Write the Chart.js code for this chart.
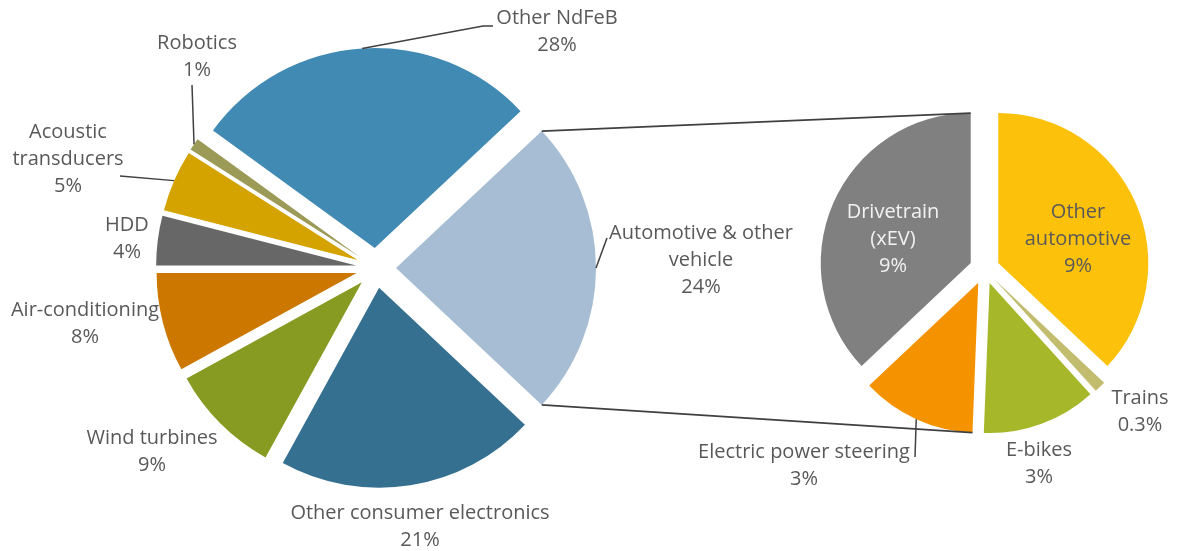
<!DOCTYPE html>
<html>
<head>
<meta charset="utf-8">
<title>NdFeB demand by application</title>
<script src="https://cdn.jsdelivr.net/npm/chart.js@4.4.1/dist/chart.umd.min.js"></script>
<style>
  html, body { margin: 0; padding: 0; background: #fff; }
  #wrap { position: relative; width: 1178px; height: 551px; }
  #wrap canvas { position: absolute; left: 0; top: 0; }
</style>
</head>
<body>
<div id="wrap">
  <canvas id="mainPie" width="1178" height="551"></canvas>
  <canvas id="subPie" width="1178" height="551"></canvas>
</div>
<script>
// main pie, clockwise from the slice that is broken out on the right
const mainLabels = ['Automotive & other vehicle', 'Other consumer electronics', 'Wind turbines',
  'Air-conditioning', 'HDD', 'Acoustic transducers', 'Robotics', 'Other NdFeB'];
const mainValues = [24, 21, 9, 8, 4, 5, 1, 28];
const mainColors = ['#a6bdd3', '#357091', '#879a21', '#cc7700', '#676767', '#d4a300', '#9c9a57', '#418ab3'];

// breakdown of the automotive slice, clockwise from 12 o'clock
const subLabels = ['Other automotive', 'Trains', 'E-bikes', 'Electric power steering', 'Drivetrain (xEV)'];
const subValues = [9, 0.3, 3, 3, 9];
const subColors = ['#fcc10a', '#c2bd6e', '#a6b72a', '#f59200', '#808080'];

const FONT = '20px "Open Sans"';
const TEXT = '#595959';
const LINE = '#404040';
const LINE_H = 27;

// x = centre of the text block, y = middle of the first line
const mainLabelPos = [
  { x: 701, y: 233, wrap: 200, leader: [[607, 238]] },
  { x: 420, y: 513 },
  { x: 152, y: 438 },
  { x: 85, y: 310 },
  { x: 127, y: 225 },
  { x: 68, y: 132, wrap: 130, leader: [[120, 176]] },
  { x: 197, y: 43, leader: [[192, 85]] },
  { x: 557, y: 18, leader: [[483, 26], [493, 26]] }
];
const subLabelPos = [
  { x: 1078, y: 212, wrap: 115 },
  { x: 1140, y: 398 },
  { x: 1039, y: 450 },
  { x: 804, y: 452, leader: [[915, 457]] },
  { x: 893, y: 212, wrap: 120, color: '#f2f2f2' }
];

const sum = arr => arr.reduce((a, b) => a + b, 0);

function pointOn(arc, angle) {
  return { x: arc.x + Math.cos(angle) * arc.outerRadius, y: arc.y + Math.sin(angle) * arc.outerRadius };
}

function wrapText(ctx, text, maxWidth) {
  if (!maxWidth) return [text];
  const lines = [];
  let line = '';
  text.split(' ').forEach(word => {
    const test = line ? line + ' ' + word : word;
    if (line && ctx.measureText(test).width > maxWidth) {
      lines.push(line);
      line = word;
    } else {
      line = test;
    }
  });
  lines.push(line);
  return lines;
}

// pull every slice out along its bisector
function explodePlugin(distance) {
  return {
    id: 'explode',
    afterDatasetUpdate(chart, args) {
      args.meta.data.forEach(arc => {
        const mid = (arc.startAngle + arc.endAngle) / 2;
        arc.x += Math.cos(mid) * distance;
        arc.y += Math.sin(mid) * distance;
      });
    }
  };
}

// category name + percentage, with optional leader line from the slice edge
function labelPlugin(positions) {
  return {
    id: 'sliceLabels',
    afterDraw(chart) {
      const ctx = chart.ctx;
      const arcs = chart.getDatasetMeta(0).data;
      const names = chart.data.labels;
      const values = chart.data.datasets[0].data;
      ctx.save();
      ctx.font = FONT;
      ctx.textAlign = 'center';
      ctx.textBaseline = 'middle';
      positions.forEach((pos, i) => {
        if (pos.leader) {
          const arc = arcs[i];
          const start = pointOn(arc, (arc.startAngle + arc.endAngle) / 2);
          ctx.strokeStyle = LINE;
          ctx.lineWidth = 1.5;
          ctx.beginPath();
          ctx.moveTo(start.x, start.y);
          pos.leader.forEach(p => ctx.lineTo(p[0], p[1]));
          ctx.stroke();
        }
        const lines = wrapText(ctx, names[i], pos.wrap);
        lines.push(values[i] + '%');
        ctx.fillStyle = pos.color || TEXT;
        lines.forEach((t, k) => ctx.fillText(t, pos.x, pos.y + k * LINE_H));
      });
      ctx.restore();
    }
  };
}

function pieOptions(rotation, radius, padding) {
  return {
    responsive: false,
    animation: false,
    devicePixelRatio: 1,
    events: [],
    rotation: rotation,
    radius: radius,
    layout: { padding: padding },
    plugins: { legend: { display: false }, tooltip: { enabled: false } }
  };
}

document.fonts.load(FONT).then(() => {
  // centre at (376, 268), r = 200
  const mainChart = new Chart(document.getElementById('mainPie'), {
    type: 'pie',
    data: {
      labels: mainLabels,
      datasets: [{ data: mainValues, backgroundColor: mainColors, borderWidth: 0 }]
    },
    options: pieOptions(90 - mainValues[0] / sum(mainValues) * 180, 200,
      { left: 0, right: 426, top: 0, bottom: 15 }),
    plugins: [explodePlugin(20), labelPlugin(mainLabelPos)]
  });

  // lines tying the automotive slice to the breakdown pie
  const connectors = {
    id: 'connectors',
    afterDraw(chart) {
      const src = mainChart.getDatasetMeta(0).data[0];
      const sub = chart.getDatasetMeta(0).data;
      const a1 = pointOn(src, src.startAngle);
      const a2 = pointOn(src, src.endAngle);
      const last = sub[sub.length - 1];
      const b1 = pointOn(last, last.endAngle);
      const b2 = pointOn(sub[3], sub[3].startAngle);
      const ctx = chart.ctx;
      ctx.save();
      ctx.strokeStyle = LINE;
      ctx.lineWidth = 1.8;
      ctx.beginPath();
      ctx.moveTo(a1.x, a1.y);
      ctx.lineTo(b1.x, b1.y);
      ctx.moveTo(a2.x, a2.y);
      ctx.lineTo(b2.x, b2.y);
      ctx.stroke();
      ctx.restore();
    }
  };

  // centre at (984.5, 269), r = 150
  new Chart(document.getElementById('subPie'), {
    type: 'pie',
    data: {
      labels: subLabels,
      datasets: [{ data: subValues, backgroundColor: subColors, borderWidth: 0 }]
    },
    options: pieOptions(0, 150, { left: 791, right: 0, top: 0, bottom: 13 }),
    plugins: [explodePlugin(15), connectors, labelPlugin(subLabelPos)]
  });
});
</script>
</body>
</html>
